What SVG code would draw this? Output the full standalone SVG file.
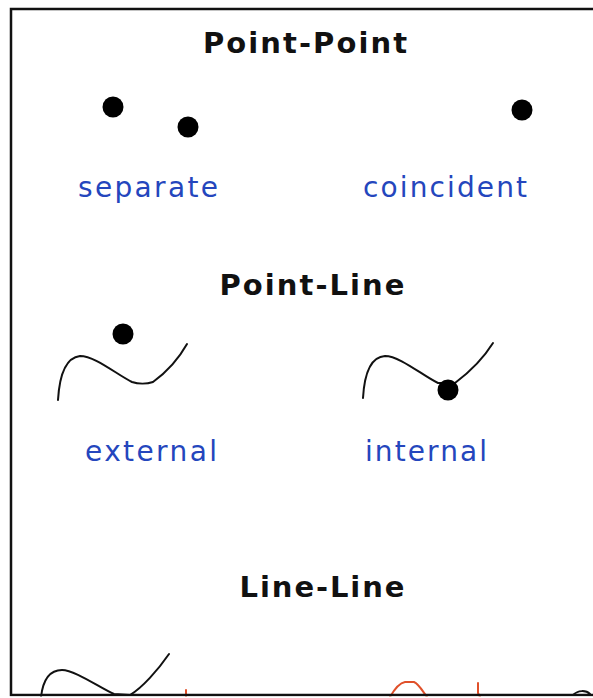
<svg xmlns="http://www.w3.org/2000/svg" width="593" height="698" viewBox="0 0 593 698">
  <style>
    .title { font-family: "DejaVu Sans", "Liberation Sans", sans-serif; font-weight: bold; font-size: 29px; fill: #111; text-anchor: middle; }
    .label { font-family: "DejaVu Sans", "Liberation Sans", sans-serif; font-size: 28px; fill: #2446bd; text-anchor: middle; }
    .curve { fill: none; stroke: #111; stroke-width: 2; stroke-linecap: round; stroke-linejoin: round; }
    .red { fill: none; stroke: #e0502a; stroke-width: 2; stroke-linecap: round; stroke-linejoin: round; }
    .dot { fill: #000; }
    .frame { fill: none; stroke: #111; stroke-width: 2.5; }
  </style>
  <rect x="0" y="0" width="593" height="698" fill="#fff"/>

  <g id="point-point">
    <text class="title" x="305" y="53" textLength="204" lengthAdjust="spacing">Point-Point</text>
    <g id="separate">
      <circle class="dot" cx="113" cy="107" r="10.5"/>
      <circle class="dot" cx="188" cy="127" r="10.5"/>
      <text class="label" x="148" y="197" textLength="140" lengthAdjust="spacing">separate</text>
    </g>
    <g id="coincident">
      <circle class="dot" cx="522" cy="110" r="10.5"/>
      <text class="label" x="445" y="197" textLength="164" lengthAdjust="spacing">coincident</text>
    </g>
  </g>

  <g id="point-line">
    <text class="title" x="312" y="295" textLength="185" lengthAdjust="spacing">Point-Line</text>
    <g id="external">
      <path class="curve" d="M58,400 C59,383 63,358 80,356 C95,356 116,374 132,382 C138,384 147,384 153,382 C164,374 178,360 187,344"/>
      <circle class="dot" cx="123" cy="334" r="10.5"/>
      <text class="label" x="151" y="461" textLength="132" lengthAdjust="spacing">external</text>
    </g>
    <g id="internal">
      <path class="curve" d="M363,398 C364,381 368,357 385,356 C400,356 423,376 438,383 L455,383 C467,374 483,359 493,343"/>
      <circle class="dot" cx="448" cy="390" r="10.5"/>
      <text class="label" x="426" y="461" textLength="122" lengthAdjust="spacing">internal</text>
    </g>
  </g>

  <g id="line-line">
    <text class="title" x="322" y="597" textLength="165" lengthAdjust="spacing">Line-Line</text>
    <path class="curve" d="M41,697 C43,680 50,670 62,670 C75,670 100,688 114,694 L130,695 C142,688 158,670 169,654"/>
    <path class="red" d="M186,697 L186,690"/>
    <path class="red" d="M390,697 C394,690 399,683 405,682 L414,682 C419,684 423,692 427,697"/>
    <path class="red" d="M478,683 L478,693 L480,697"/>
    <path class="curve" d="M573,695 C578,690 586,690 590,694"/>
    <path class="red" d="M590,695 L593,695"/>
  </g>

  <g id="frame">
    <path class="frame" d="M593,9 L11,9 L11,695 L593,695"/>
    <rect x="0" y="696.5" width="593" height="2" fill="#fff"/>
  </g>
</svg>
